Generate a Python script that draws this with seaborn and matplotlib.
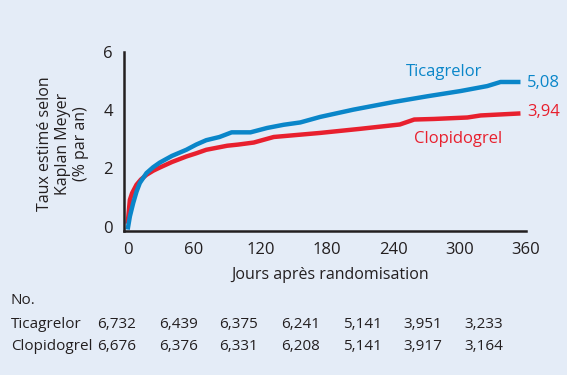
import matplotlib
matplotlib.use("Agg")
import matplotlib.pyplot as plt
import seaborn as sns
import pandas as pd

days_tica = [0, 2, 5, 8, 11, 17, 23, 29, 40, 53, 62, 71, 83, 94, 100, 111, 126, 141, 156, 174, 204, 240, 271, 301, 325, 337, 355]
rate_tica = [-0.1, 0.35, 0.81, 1.2, 1.5, 1.84, 2.04, 2.2, 2.43, 2.64, 2.82, 2.97, 3.08, 3.24, 3.24, 3.24, 3.39, 3.50, 3.58, 3.77, 4.02, 4.28, 4.48, 4.66, 4.83, 4.97, 4.97]
days_clop = [0, 2, 4, 8, 12, 17, 23, 29, 40, 53, 62, 71, 90, 100, 114, 132, 156, 174, 210, 246, 259, 277, 307, 319, 355]
rate_clop = [0.1, 0.92, 1.15, 1.44, 1.62, 1.78, 1.92, 2.03, 2.22, 2.41, 2.52, 2.64, 2.78, 2.82, 2.89, 3.08, 3.16, 3.22, 3.36, 3.51, 3.68, 3.70, 3.75, 3.82, 3.89]

x_ticks = [0, 60, 120, 180, 240, 300, 360]
y_ticks = [0, 2, 4, 6]
groups = ["Ticagrelor", "Clopidogrel"]
end_labels = ["5,08", "3,94"]
n_tica = ["6,732", "6,439", "6,375", "6,241", "5,141", "3,951", "3,233"]
n_clop = ["6,676", "6,376", "6,331", "6,208", "5,141", "3,917", "3,164"]

BG = "#e4ecf7"
BLUE = "#0a86c9"
RED = "#e8202e"
TXT = "#231f20"

sns.set_style("white")
plt.rcParams["font.family"] = ["Open Sans", "DejaVu Sans"]

df = pd.concat([
    pd.DataFrame({"day": days_tica, "rate": rate_tica, "group": groups[0]}),
    pd.DataFrame({"day": days_clop, "rate": rate_clop, "group": groups[1]}),
])

fig = plt.figure(figsize=(5.67, 3.75), dpi=100, facecolor=BG)
ax = fig.add_axes([0.2187, 0.384, 0.709, 0.4773])
ax.set_facecolor(BG)
sns.lineplot(data=df, x="day", y="rate", hue="group", palette={groups[0]: BLUE, groups[1]: RED},
             hue_order=[groups[1], groups[0]], linewidth=3.2, legend=False, ax=ax, estimator=None, sort=False)
for ln in ax.get_lines():
    ln.set_solid_joinstyle("round")
    ln.set_solid_capstyle("butt")

ax.set_xlim(-3.3, 360)
ax.set_ylim(-0.15, 6)
ax.set_xticks(x_ticks)
ax.set_yticks(y_ticks)
ax.tick_params(axis="both", direction="out", length=5, width=1.6, color=TXT, labelsize=12, labelcolor=TXT, pad=3)
for s in ["top", "right"]:
    ax.spines[s].set_visible(False)
for s in ["left", "bottom"]:
    ax.spines[s].set_color(TXT)
    ax.spines[s].set_linewidth(1.8)
ax.set_xlabel("")
ax.set_ylabel("")

fig.text(330 / 567, 1 - 275 / 375, "Jours après randomisation", ha="center", va="center", fontsize=11.5, color=TXT)
fig.text(63 / 567, 1 - 144 / 375, "Taux estimé selon\nKaplan Meyer\n(% par an)", ha="center", va="center",
         rotation=90, fontsize=11.5, color=TXT, linespacing=1.15)

fig.text(444 / 567, 1 - 72 / 375, groups[0], ha="center", va="center", fontsize=12, color=BLUE)
fig.text(458 / 567, 1 - 139 / 375, groups[1], ha="center", va="center", fontsize=12, color=RED)
fig.text(527 / 567, 1 - 83 / 375, end_labels[0], ha="left", va="center", fontsize=12, color=BLUE)
fig.text(527 / 567, 1 - 112 / 375, end_labels[1], ha="left", va="center", fontsize=12, color=RED)

fig.text(11 / 567, 1 - 300 / 375, "No.", ha="left", va="center", fontsize=11, color=TXT)
col_x = [117, 179, 239, 301, 362, 423, 484]
for row_y, name, vals in [(325, groups[0], n_tica), (346, groups[1], n_clop)]:
    fig.text(11 / 567, 1 - row_y / 375, name, ha="left", va="center", fontsize=11, color=TXT)
    for cx, v in zip(col_x, vals):
        fig.text(cx / 567, 1 - row_y / 375, v, ha="center", va="center", fontsize=11, color=TXT)

fig.savefig("out.png", dpi=100, facecolor=BG)
